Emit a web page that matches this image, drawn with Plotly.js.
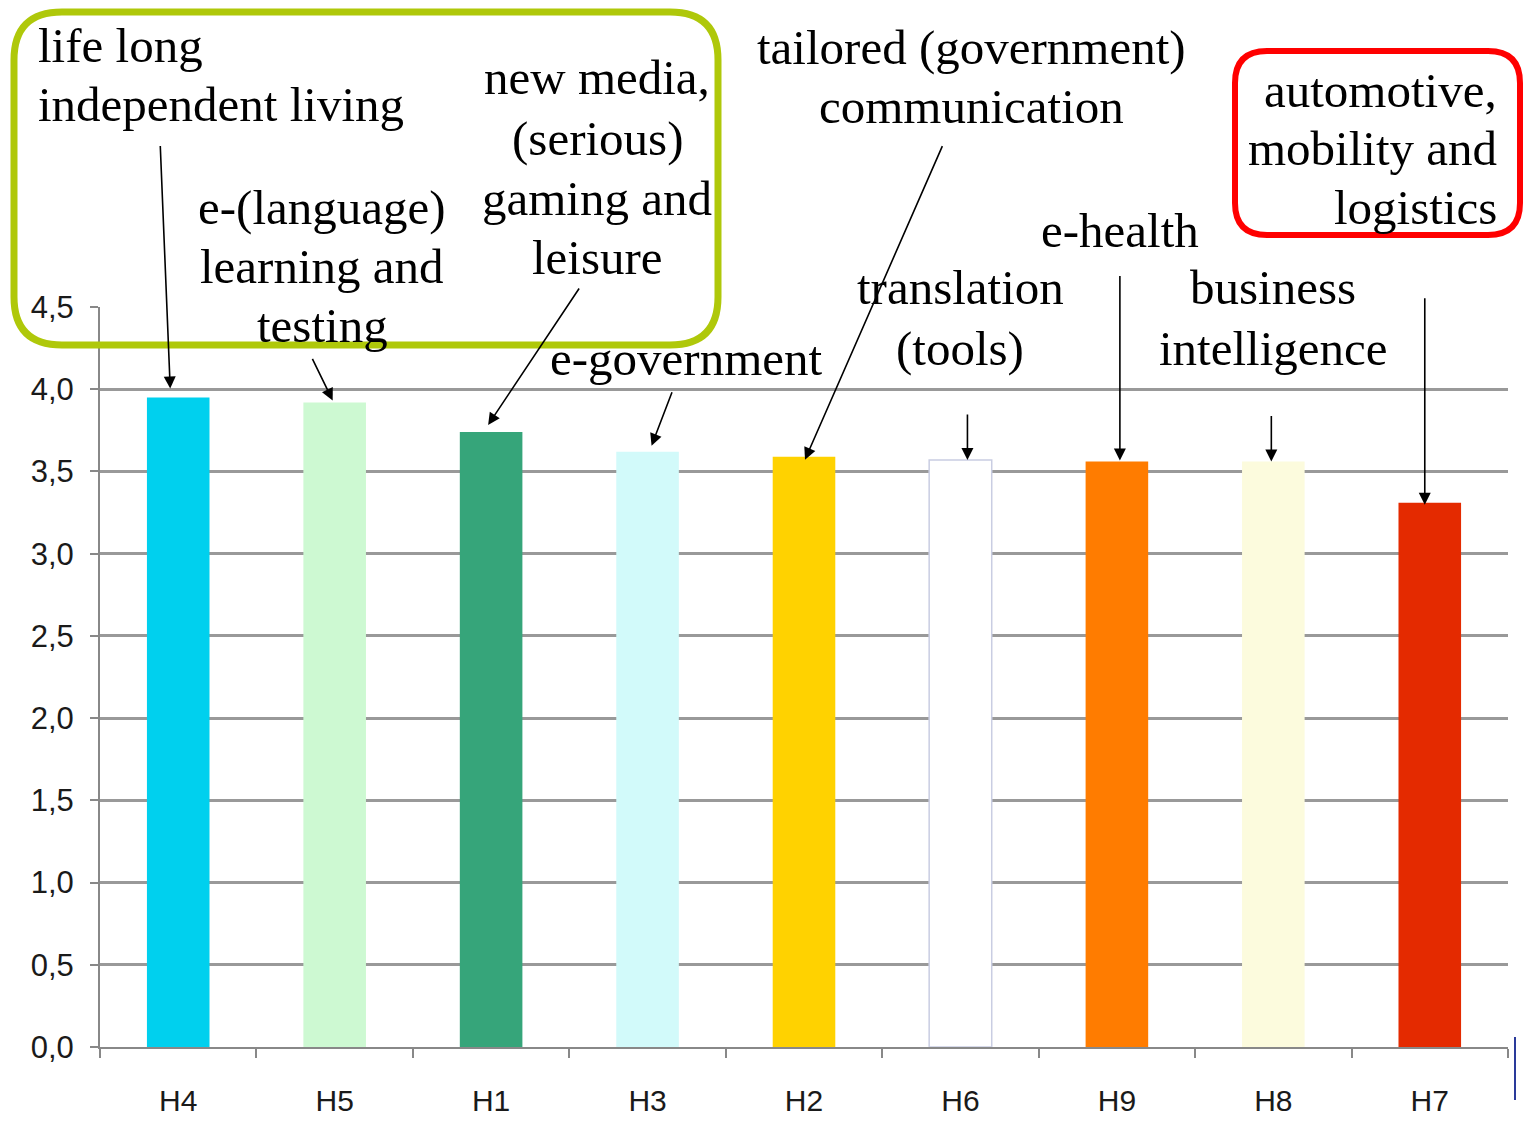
<!DOCTYPE html>
<html>
<head>
<meta charset="utf-8">
<script src="https://cdn.plot.ly/plotly-3.0.1.min.js"></script>
<style>html,body{margin:0;padding:0;background:#fff;}#chart{width:1528px;height:1128px;}</style>
</head>
<body>
<div id="chart"></div>
<script>
// ---- data ----
const categories = ['H4', 'H5', 'H1', 'H3', 'H2', 'H6', 'H9', 'H8', 'H7'];
const values = [3.95, 3.92, 3.74, 3.62, 3.59, 3.57, 3.56, 3.56, 3.31];
const barColors = ['#00d0ee', '#cdf9d2', '#36a57a', '#d2fafa', '#ffd200', '#ffffff', '#ff7c00', '#fcfbdd', '#e42a00'];
const themeLabels = [
  'life long<br>independent living',
  'e-(language)<br>learning and<br>testing',
  'new media,<br>(serious)<br>gaming and<br>leisure',
  'e-government',
  'tailored (government)<br>communication',
  'translation<br>(tools)',
  'e-health',
  'business<br>intelligence',
  'automotive,<br>mobility and<br>logistics'
];
const yTickVals = [0, 0.5, 1, 1.5, 2, 2.5, 3, 3.5, 4, 4.5];

// ---- layout geometry (pixels) ----
const W = 1528, H = 1128;
const M = {l: 100, r: 20, t: 307, b: 81};
const PW = W - M.l - M.r, PH = H - M.t - M.b;
const px = x => (x - M.l) / PW;
const py = y => (H - M.b - y) / PH;

function roundRect(x0, y0, x1, y1, r) {
  const P = (x, y) => px(x).toFixed(5) + ',' + py(y).toFixed(5);
  return 'M' + P(x0 + r, y0) + ' L' + P(x1 - r, y0) + ' Q' + P(x1, y0) + ' ' + P(x1, y0 + r) +
         ' L' + P(x1, y1 - r) + ' Q' + P(x1, y1) + ' ' + P(x1 - r, y1) +
         ' L' + P(x0 + r, y1) + ' Q' + P(x0, y1) + ' ' + P(x0, y1 - r) +
         ' L' + P(x0, y0 + r) + ' Q' + P(x0, y0) + ' ' + P(x0 + r, y0) + ' Z';
}

// text block placement: [x, y of first line center, xanchor, line step]
const labelPos = [
  [36, 45, 'left', 60],
  [322, 207, 'center', 59],
  [597, 78, 'center', 60],
  [686, 358, 'center', 60],
  [972, 47, 'center', 59],
  [960, 288, 'center', 60],
  [1120, 230, 'center', 60],
  [1273, 288, 'center', 60],
  [1499, 90, 'right', 59]
];
// arrow offsets relative to bar top: [xshift, yshift, ax, ay]
const arrowPos = [
  [-8, 9, -10, -244],
  [-2, 2, -21, -43],
  [-3, 7, 92, -138],
  [4, 6, 21, -55],
  [1, -3, 138, -315],
  [7, 0, 0, -47],
  [3, 1, 0, -186],
  [-2, 0, 0, -47],
  [-5, -2, 0, -208]
];

const serif = '"Liberation Serif", "Times New Roman", serif';
const annotations = [];
themeLabels.forEach((t, i) => {
  const p = labelPos[i];
  t.split('<br>').forEach((line, k) => {
    annotations.push({
      xref: 'paper', yref: 'paper', x: px(p[0]), y: py(p[1] + k * p[3]),
      xanchor: p[2], yanchor: 'middle', align: p[2],
      text: line, showarrow: false,
      font: {family: serif, size: 49, color: '#000'}
    });
  });
});
categories.forEach((c, i) => {
  const a = arrowPos[i];
  annotations.push({
    xref: 'x', yref: 'y', x: c, y: values[i], xshift: a[0], yshift: a[1],
    ax: a[2], ay: a[3], text: '', showarrow: true,
    arrowhead: 2, arrowsize: 1.5, arrowwidth: 1.6, arrowcolor: '#000', standoff: 0
  });
});

const trace = {
  type: 'bar',
  x: categories,
  y: values,
  marker: {
    color: barColors,
    line: {color: barColors.map(c => c === '#ffffff' ? '#c9cde2' : c),
           width: barColors.map(c => c === '#ffffff' ? 1.5 : 0)}
  },
  hoverinfo: 'x+y'
};

const sans = '"Liberation Sans", Arial, sans-serif';
const layout = {
  width: W, height: H,
  margin: M,
  paper_bgcolor: '#fff', plot_bgcolor: '#fff',
  showlegend: false,
  separators: ',.',
  bargap: 0.6,
  font: {family: sans, color: '#1a1a1a'},
  xaxis: {
    type: 'category',
    tickson: 'boundaries',
    ticks: 'outside', ticklen: 9, tickwidth: 2, tickcolor: '#888',
    showline: true, linecolor: '#888', linewidth: 2,
    showgrid: false, zeroline: false,
    tickfont: {family: sans, size: 30, color: '#1a1a1a'},
    ticklabelstandoff: 26
  },
  yaxis: {
    range: [0, 4.5],
    tickvals: yTickVals,
    tickformat: '.1f',
    ticks: 'outside', ticklen: 8, tickwidth: 2, tickcolor: '#888',
    showline: true, linecolor: '#888', linewidth: 2,
    showgrid: true, gridcolor: '#999999', gridwidth: 3,
    zeroline: false,
    tickfont: {family: sans, size: 31, color: '#1a1a1a'},
    ticklabelstandoff: 10
  },
  annotations: annotations,
  shapes: [
    {type: 'path', xref: 'paper', yref: 'paper', path: roundRect(14, 12, 718, 345, 48),
     line: {color: '#afc80a', width: 7}, fillcolor: 'rgba(0,0,0,0)'},
    {type: 'path', xref: 'paper', yref: 'paper', path: roundRect(1235, 51, 1520, 235, 32),
     line: {color: '#ff0000', width: 6}, fillcolor: 'rgba(0,0,0,0)'},
    {type: 'line', xref: 'paper', yref: 'paper', x0: px(1515), x1: px(1515), y0: py(1037), y1: py(1100),
     line: {color: '#2a3a9a', width: 2}}
  ]
};

Plotly.newPlot('chart', [trace], layout, {displayModeBar: false, staticPlot: true});
</script>
</body>
</html>
